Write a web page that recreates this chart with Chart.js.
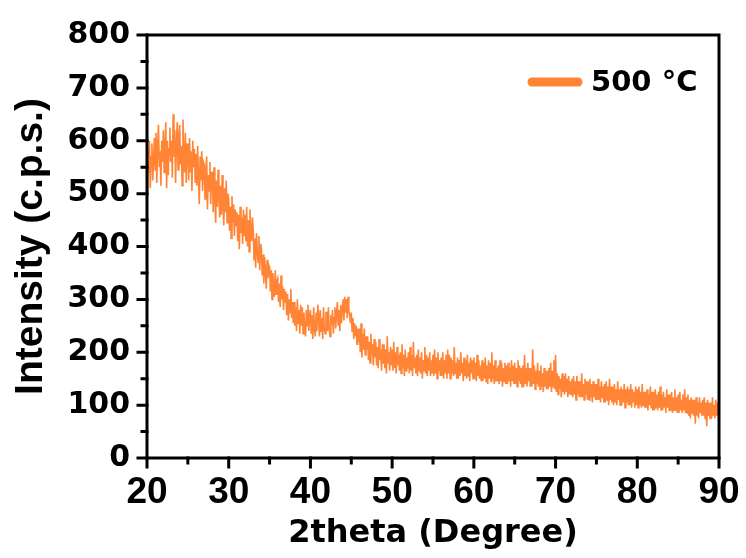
<!DOCTYPE html>
<html>
<head>
<meta charset="utf-8">
<script src="https://cdn.jsdelivr.net/npm/chart.js@4"></script>
<style>
  html, body { margin: 0; padding: 0; background: #fff; }
</style>
</head>
<body>
<canvas id="xrd" width="746" height="558"></canvas>
<script>
// scan: 20 -> 90 deg, 0.1 deg step, one row per degree
const thetaStart = 20;
const thetaStep = 0.1;
const seriesLabel = '500 °C';
const intensity = [
  505, 585, 540, 600, 510, 570, 595, 525, 560, 605,
  545, 615, 520, 590, 630, 550, 580, 515, 600, 560,
  620, 540, 590, 635, 510, 600, 535, 585, 625, 560,
  600, 530, 650, 570, 620, 520, 595, 635, 545, 610,
  630, 555, 590, 515, 640, 575, 540, 615, 520, 595,
  585, 525, 605, 540, 580, 505, 600, 550, 585, 520,
  575, 515, 590, 530, 480, 570, 525, 580, 505, 560,
  555, 490, 545, 570, 470, 535, 505, 560, 480, 540,
  540, 465, 550, 490, 445, 525, 475, 545, 495, 455,
  515, 460, 535, 475, 440, 510, 465, 525, 445, 500,
  490, 430, 475, 415, 495, 445, 480, 420, 470, 440,
  465, 410, 460, 395, 475, 425, 455, 405, 470, 420,
  460, 410, 475, 400, 450, 390, 470, 425, 410, 455,
  430, 375, 415, 360, 425, 390, 370, 420, 355, 405,
  395, 345, 385, 330, 380, 350, 320, 375, 340, 365,
  360, 315, 355, 300, 350, 320, 305, 355, 310, 335,
  340, 295, 330, 285, 345, 300, 325, 280, 320, 295,
  315, 270, 310, 260, 300, 275, 320, 265, 295, 255,
  295, 250, 285, 240, 300, 255, 280, 235, 290, 250,
  285, 235, 275, 245, 230, 280, 250, 290, 240, 270,
  280, 235, 270, 225, 285, 245, 230, 275, 240, 290,
  270, 230, 280, 240, 265, 225, 285, 245, 235, 275,
  275, 240, 285, 245, 230, 270, 250, 280, 235, 265,
  285, 245, 275, 295, 250, 280, 240, 290, 255, 280,
  300, 260, 305, 275, 300, 265, 305, 280, 270, 255,
  275, 240, 265, 225, 255, 230, 250, 215, 245, 220,
  245, 200, 255, 190, 235, 205, 245, 195, 230, 205,
  230, 185, 220, 180, 235, 195, 215, 175, 225, 190,
  220, 175, 210, 170, 225, 185, 205, 165, 215, 180,
  215, 170, 205, 160, 230, 180, 200, 165, 210, 175,
  205, 165, 220, 170, 200, 160, 210, 175, 195, 165,
  200, 160, 215, 170, 195, 155, 205, 165, 190, 170,
  200, 160, 210, 165, 195, 155, 220, 170, 190, 160,
  195, 155, 205, 165, 190, 160, 200, 150, 185, 165,
  210, 160, 195, 155, 190, 165, 200, 155, 185, 160,
  195, 155, 205, 160, 190, 150, 200, 165, 185, 155,
  190, 155, 200, 150, 185, 160, 195, 150, 205, 160,
  195, 150, 190, 160, 185, 155, 210, 160, 180, 150,
  190, 150, 185, 155, 200, 160, 180, 145, 190, 155,
  185, 150, 195, 155, 180, 145, 190, 160, 185, 150,
  190, 150, 180, 145, 195, 155, 185, 150, 175, 145,
  185, 145, 180, 150, 190, 145, 175, 140, 185, 150,
  180, 145, 200, 150, 175, 140, 185, 145, 170, 145,
  175, 140, 185, 145, 180, 135, 170, 145, 180, 140,
  175, 140, 180, 145, 170, 135, 185, 145, 175, 140,
  180, 140, 170, 135, 185, 145, 175, 140, 170, 135,
  175, 135, 195, 140, 170, 135, 180, 145, 170, 135,
  170, 135, 205, 140, 175, 130, 165, 140, 180, 135,
  165, 130, 175, 135, 160, 125, 170, 135, 165, 130,
  165, 130, 170, 135, 180, 125, 165, 135, 185, 130,
  195, 125, 160, 120, 155, 130, 150, 115, 160, 125,
  155, 120, 160, 125, 150, 115, 155, 120, 145, 120,
  150, 115, 155, 120, 145, 110, 155, 120, 145, 115,
  145, 115, 160, 115, 140, 110, 150, 120, 145, 110,
  145, 110, 150, 115, 140, 105, 145, 115, 140, 110,
  140, 110, 150, 110, 135, 105, 145, 115, 135, 105,
  140, 105, 145, 110, 135, 100, 150, 110, 135, 105,
  135, 100, 140, 105, 130, 100, 145, 110, 130, 100,
  135, 100, 130, 105, 140, 95, 130, 105, 135, 100,
  130, 100, 140, 95, 130, 105, 125, 95, 135, 100,
  130, 95, 135, 100, 125, 95, 140, 100, 125, 95,
  125, 95, 130, 90, 120, 100, 135, 95, 125, 90,
  125, 90, 130, 95, 120, 90, 125, 95, 135, 90,
  120, 90, 125, 95, 115, 85, 130, 95, 120, 90,
  120, 90, 125, 85, 115, 90, 130, 90, 115, 85,
  120, 85, 125, 90, 110, 85, 120, 90, 130, 85,
  115, 85, 120, 80, 110, 75, 115, 85, 110, 80,
  110, 65, 115, 80, 105, 75, 115, 85, 105, 80,
  110, 80, 115, 75, 105, 60, 110, 80, 105, 75,
  105, 75, 115, 80, 100, 75, 110, 80, 105, 85,
  95
];
const xTicks = [20, 30, 40, 50, 60, 70, 80, 90];
const yTicks = [0, 100, 200, 300, 400, 500, 600, 700, 800];

const lineColor = '#FF8436';
const boldFont = ( family, size ) => ( { family: family, weight: 'bold', size: size } );

// box, major + minor ticks, legend
const framePlugin = {
  id: 'frame',
  afterDraw( chart ) {
    const ctx = chart.ctx;
    const { left, right, top, bottom } = chart.chartArea;
    const xs = chart.scales.x;
    const ys = chart.scales.y;
    ctx.save();
    ctx.strokeStyle = '#000';
    ctx.lineWidth = 3;
    ctx.lineCap = 'square';
    ctx.strokeRect( left, top, right - left, bottom - top );
    ctx.beginPath();
    xTicks.forEach( ( v, i ) => {
      const px = xs.getPixelForValue( v );
      ctx.moveTo( px, bottom );
      ctx.lineTo( px, bottom + 9 );
      if ( i < xTicks.length - 1 ) {
        const mx = xs.getPixelForValue( ( v + xTicks[ i + 1 ] ) / 2 );
        ctx.moveTo( mx, bottom );
        ctx.lineTo( mx, bottom + 5 );
      }
    } );
    yTicks.forEach( ( v, i ) => {
      const py = ys.getPixelForValue( v );
      ctx.moveTo( left, py );
      ctx.lineTo( left - 9, py );
      if ( i < yTicks.length - 1 ) {
        const my = ys.getPixelForValue( ( v + yTicks[ i + 1 ] ) / 2 );
        ctx.moveTo( left, my );
        ctx.lineTo( left - 5, my );
      }
    } );
    ctx.stroke();

    // legend
    const ds = chart.data.datasets[ 0 ];
    ctx.strokeStyle = ds.borderColor;
    ctx.lineWidth = 9;
    ctx.lineCap = 'round';
    ctx.beginPath();
    ctx.moveTo( 532, 82 );
    ctx.lineTo( 578, 82 );
    ctx.stroke();
    ctx.fillStyle = '#000';
    ctx.font = 'bold 29px "DejaVu Sans"';
    ctx.textBaseline = 'middle';
    ctx.fillText( ds.label, 591, 83 );
    ctx.restore();
  }
};

new Chart( document.getElementById( 'xrd' ), {
  type: 'line',
  data: {
    datasets: [ {
      label: seriesLabel,
      data: intensity.map( ( v, i ) => ( { x: thetaStart + i * thetaStep, y: v } ) ),
      borderColor: lineColor,
      borderWidth: 1.6,
      pointRadius: 0,
      tension: 0,
    } ]
  },
  options: {
    responsive: false,
    animation: false,
    devicePixelRatio: 1,
    layout: { padding: { top: 34, right: 27, left: 0, bottom: 0 } },
    plugins: {
      legend: { display: false },
      tooltip: { enabled: false },
    },
    scales: {
      x: {
        type: 'linear',
        min: 20,
        max: 90,
        afterFit: ( s ) => {
          s.height = 100;
          s.paddingLeft = 0;
          s.paddingRight = 0;
        },
        afterBuildTicks: ( s ) => { s.ticks = xTicks.map( v => ( { value: v } ) ); },
        grid: { display: false, drawTicks: false },
        border: { display: false },
        ticks: { color: '#000', font: boldFont( 'Liberation Sans', 37 ), padding: 13, maxRotation: 0 },
        title: {
          display: true,
          text: '2theta (Degree)',
          color: '#000',
          font: boldFont( 'DejaVu Sans', 32 ),
          padding: { top: 0, bottom: 5 },
        },
      },
      y: {
        min: 0,
        max: 800,
        afterFit: ( s ) => { s.width = 147; },
        afterBuildTicks: ( s ) => { s.ticks = yTicks.map( v => ( { value: v } ) ); },
        grid: { display: false, drawTicks: false },
        border: { display: false },
        ticks: { color: '#000', font: boldFont( 'DejaVu Sans', 30 ), padding: 17 },
        title: {
          display: true,
          text: 'Intensity (c.p.s.)',
          color: '#000',
          font: boldFont( 'Liberation Sans', 39 ),
          padding: { top: 8, bottom: 0 },
        },
      },
    },
  },
  plugins: [ framePlugin ],
} );
</script>
</body>
</html>
